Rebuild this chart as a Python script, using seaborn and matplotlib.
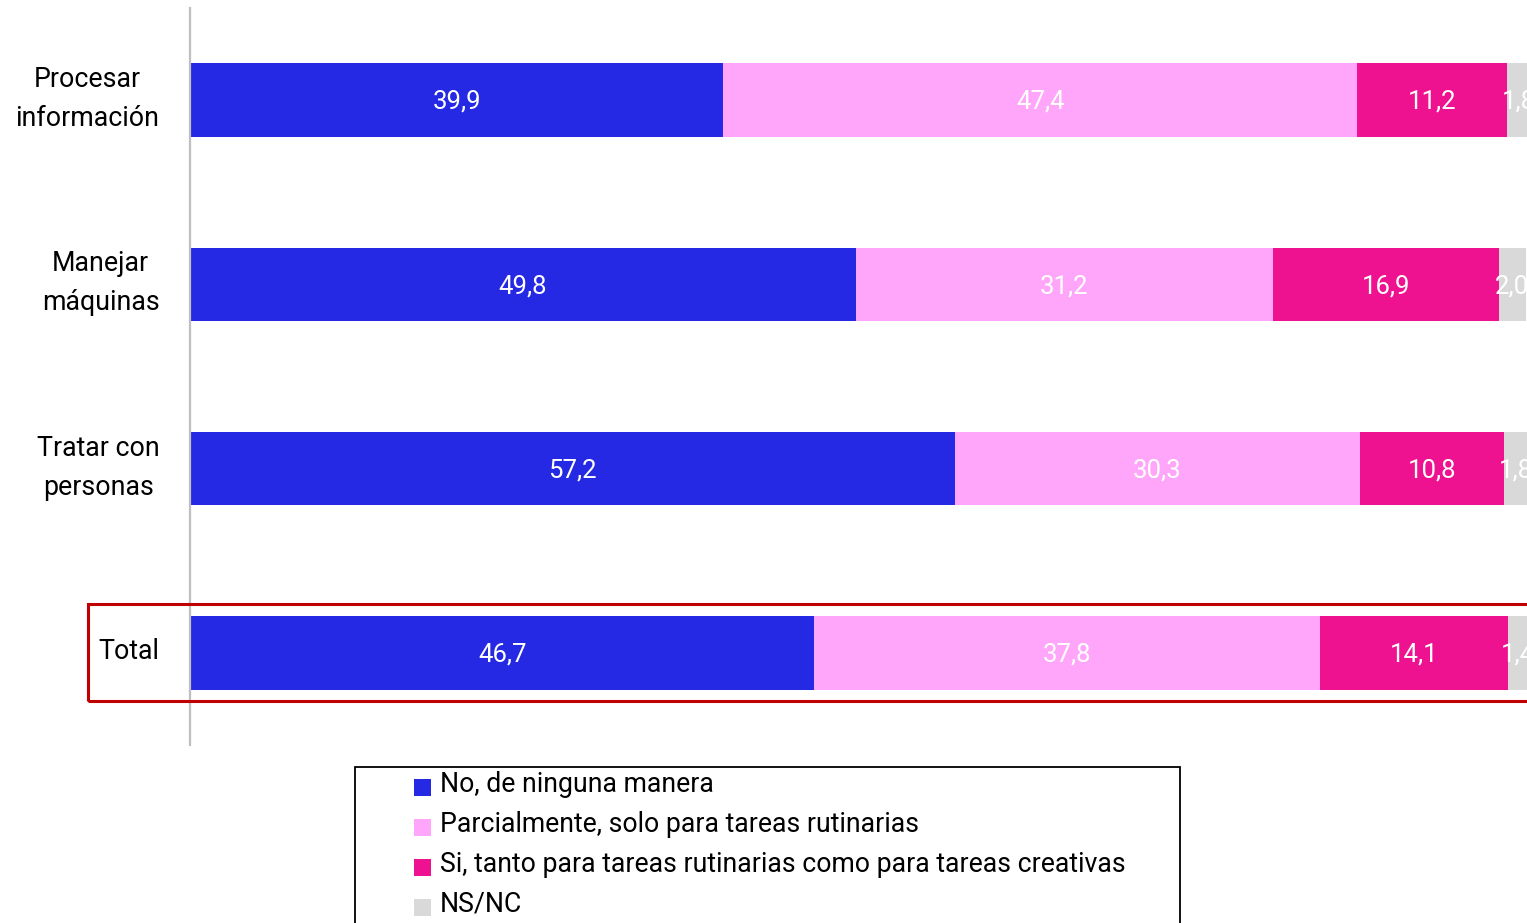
import matplotlib.pyplot as plt
import matplotlib.patches as mpatches
import matplotlib.transforms as mtransforms
import numpy as np
import pandas as pd
import seaborn as sns

categories = ["Procesar\ninformación", "Manejar\nmáquinas", "Tratar con\npersonas", "Total"]
series_names = [
    "No, de ninguna manera",
    "Parcialmente, solo para tareas rutinarias",
    "Si, tanto para tareas rutinarias como para tareas creativas",
    "NS/NC",
]
no_manera = [39.9, 49.8, 57.2, 46.7]
parcial = [47.4, 31.2, 30.3, 37.8]
si_ambas = [11.2, 16.9, 10.8, 14.1]
ns_nc = [1.8, 2.0, 1.8, 1.4]
colors = ["#2529e3", "#ffa6fb", "#ee1190", "#d9d9d9"]

sns.set_theme(style="white")
plt.rcParams['font.family'] = ['Roboto', 'DejaVu Sans']

values = np.array([no_manera, parcial, si_ambas, ns_nc])
cum = values.cumsum(axis=0)
df = pd.DataFrame({"cat": categories})

fig = plt.figure(figsize=(15.27, 9.23), dpi=100)
ax = fig.add_axes([190 / 1527, 1 - 745 / 923, 1 - 190 / 1527, (745 - 8) / 923])

# draw cumulative bars from the longest to the shortest so they stack
for i in range(len(series_names) - 1, -1, -1):
    df["v"] = cum[i]
    sns.barplot(data=df, x="v", y="cat", orient="h", color=colors[i],
                width=0.4, linewidth=0, saturation=1, ax=ax)

# value labels, centred on each segment
for i in range(len(series_names)):
    for j in range(len(categories)):
        mid = cum[i][j] - values[i][j] / 2
        ax.text(mid, j + 0.01, f"{values[i][j]:.1f}".replace(".", ","), ha="center", va="center",
                color="white", fontsize=18.5, clip_on=False)

ax.set_xlim(0, 100)
ax.set_ylim(3.5, -0.5)
ax.set_xlabel("")
ax.set_ylabel("")
ax.set_xticks([])
ax.set_yticks(range(len(categories)))
ax.set_yticklabels(categories, fontsize=19.3, multialignment="center",
                   linespacing=1.58, color="black", va="center")
ax.tick_params(axis="y", length=0, pad=22)
shift = mtransforms.ScaledTranslation(0, 1 / 100, fig.dpi_scale_trans)
for lab in ax.get_yticklabels():
    lab.set_transform(lab.get_transform() + shift)
for s in ["top", "right", "bottom"]:
    ax.spines[s].set_visible(False)
ax.spines["left"].set_color("#bfbfbf")
ax.spines["left"].set_linewidth(1.6)

# red highlight frame around Total
fig.patches.append(mpatches.Rectangle((88 / 1527, 1 - 701 / 923), 1.0, 97 / 923,
                                      transform=fig.transFigure, fill=False,
                                      edgecolor="#c00000", linewidth=2.2, zorder=5))

# legend box, cut by the bottom of the figure
fig.patches.append(mpatches.Rectangle((355 / 1527, -0.05), (1180 - 355) / 1527, 0.05 + 1 - 767 / 923,
                                      transform=fig.transFigure, fill=False,
                                      edgecolor="black", linewidth=1.3))
for k, name in enumerate(series_names):
    yc = 784 + 40 * k
    fig.patches.append(mpatches.Rectangle((414 / 1527, 1 - (yc + 12) / 923), 17 / 1527, 17 / 923,
                                          transform=fig.transFigure, facecolor=colors[k],
                                          edgecolor="none"))
    fig.text(440 / 1527, 1 - yc / 923, name, ha="left", va="center", fontsize=19.2, color="black")

fig.savefig("out.png", dpi=100)
